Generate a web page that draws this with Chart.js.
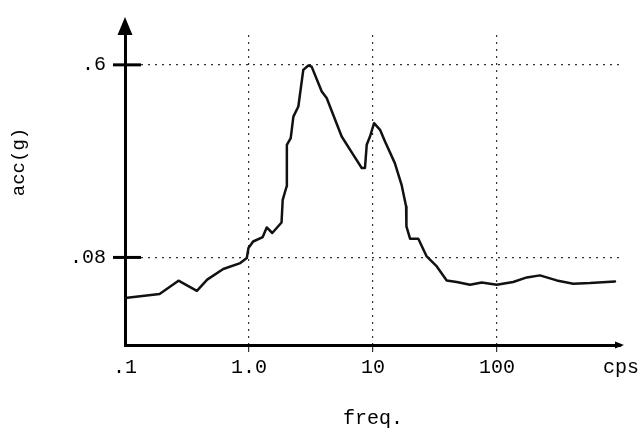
<!DOCTYPE html>
<html>
<head>
<meta charset="utf-8">
<script src="https://cdn.jsdelivr.net/npm/chart.js@4/dist/chart.umd.min.js"></script>
<style>
  body { margin: 0; background: #fff; }
  #wrap { width: 644px; height: 437px; }
</style>
</head>
<body>
<div id="wrap"><canvas id="myChart" width="644" height="437"></canvas></div>
<script>
// frequency (cps) and acceleration (g)
const freq = [0.1, 0.19, 0.27, 0.38, 0.46, 0.62, 0.85, 0.96, 0.99, 1.08, 1.29, 1.39, 1.54, 1.83, 1.87, 2.01, 2.02, 2.17, 2.28, 2.5, 2.74, 3.01, 3.2, 3.86, 4.23, 5.59, 6.94, 8.11, 8.62, 8.9, 9.46, 10.2, 11.4, 12.5, 15.0, 17.0, 18.5, 18.6, 19.9, 23.2, 27.1, 32.7, 39.3, 47.3, 60.6, 75.3, 99.5, 135, 174, 222, 303, 412, 562, 895];
const acc = [0.0523, 0.0546, 0.0627, 0.0564, 0.0634, 0.0709, 0.0754, 0.0795, 0.0883, 0.0945, 0.099, 0.1095, 0.1033, 0.1153, 0.1462, 0.168, 0.26, 0.279, 0.349, 0.388, 0.569, 0.596, 0.589, 0.454, 0.424, 0.2835, 0.234, 0.204, 0.204, 0.26, 0.2835, 0.326, 0.304, 0.269, 0.2146, 0.171, 0.1363, 0.1107, 0.0973, 0.0973, 0.0808, 0.0728, 0.0629, 0.0619, 0.0601, 0.0616, 0.0601, 0.0619, 0.0649, 0.0663, 0.0629, 0.0608, 0.0612, 0.0622];

const xTickVals = [0.1, 1, 10, 100, 1000];
const xTickLabels = [".1", "1.0", "10", "100", "cps"];
const yTickVals = [0.08, 0.6];
const yTickLabels = [".08", ".6"];

const FONT = "'Liberation Mono', 'DejaVu Sans Mono', monospace";

// arrows, tick crosses and the y title
const decor = {
  id: "decor",
  afterDraw(chart) {
    const ctx = chart.ctx;
    const a = chart.chartArea;
    const y = chart.scales.y;
    ctx.save();
    ctx.fillStyle = "#000";
    ctx.strokeStyle = "#000";
    // y arrow
    ctx.beginPath();
    ctx.moveTo(a.left, 17);
    ctx.lineTo(a.left - 7.5, a.top);
    ctx.lineTo(a.left + 7.5, a.top);
    ctx.closePath();
    ctx.fill();
    // x arrow
    ctx.beginPath();
    ctx.moveTo(a.right + 3, a.bottom);
    ctx.lineTo(a.right - 6, a.bottom - 3.5);
    ctx.lineTo(a.right - 6, a.bottom + 3.5);
    ctx.closePath();
    ctx.fill();
    // tick crosses on the y axis
    ctx.lineWidth = 3;
    yTickVals.forEach((v) => {
      const py = y.getPixelForValue(v);
      ctx.beginPath();
      ctx.moveTo(a.left - 12, py);
      ctx.lineTo(a.left + 16, py);
      ctx.stroke();
    });
    // y title
    ctx.translate(19, 162);
    ctx.rotate(-Math.PI / 2);
    ctx.font = "19px " + FONT;
    ctx.textAlign = "center";
    ctx.textBaseline = "middle";
    ctx.fillText("acc(g)", 0, 0);
    ctx.restore();
  },
};

const gridColor = (vals) => (c) =>
  c.tick && vals.includes(c.tick.value) ? "#333" : "rgba(0,0,0,0)";

const config = {
  type: "line",
  data: {
    datasets: [
      {
        data: freq.map((f, i) => ({ x: f, y: acc[i] })),
        borderColor: "#111",
        borderWidth: 2.5,
        pointRadius: 0,
        tension: 0,
        borderJoinStyle: "round",
        borderCapStyle: "round",
      },
    ],
  },
  options: {
    responsive: false,
    animation: false,
    layout: { padding: { left: 0, top: 35, right: 23, bottom: 0 } },
    plugins: { legend: { display: false }, tooltip: { enabled: false } },
    scales: {
      x: {
        type: "logarithmic",
        min: 0.1,
        max: 1000,
        afterBuildTicks: (s) => {
          s.ticks = xTickVals.map((v) => ({ value: v }));
        },
        afterFit: (s) => {
          s.height = 92;
        },
        grid: {
          color: gridColor([1, 10, 100]),
          lineWidth: 1.2,
          tickLength: 7,
          tickBorderDash: [],
        },
        border: { color: "#000", width: 3, dash: [2, 5] },
        ticks: {
          autoSkip: false,
          maxRotation: 0,
          padding: 4,
          color: "#000",
          font: { family: FONT, size: 20 },
          callback: (v) => {
            const i = xTickVals.indexOf(v);
            return i >= 0 ? xTickLabels[i] : "";
          },
        },
        title: {
          display: true,
          text: "freq.",
          color: "#000",
          font: { family: FONT, size: 20 },
          padding: { top: 0, bottom: 6 },
        },
      },
      y: {
        type: "logarithmic",
        min: 0.032,
        max: 0.82,
        afterBuildTicks: (s) => {
          s.ticks = yTickVals.map((v) => ({ value: v }));
        },
        afterFit: (s) => {
          s.width = 125;
        },
        grid: {
          color: gridColor(yTickVals),
          lineWidth: 1.2,
          drawTicks: false,
        },
        border: { color: "#000", width: 3, dash: [2, 5] },
        ticks: {
          autoSkip: false,
          padding: 19,
          color: "#000",
          font: { family: FONT, size: 20 },
          callback: (v) => {
            const i = yTickVals.indexOf(v);
            return i >= 0 ? yTickLabels[i] : "";
          },
        },
      },
    },
  },
  plugins: [decor],
};

new Chart(document.getElementById("myChart"), config);
</script>
</body>
</html>
